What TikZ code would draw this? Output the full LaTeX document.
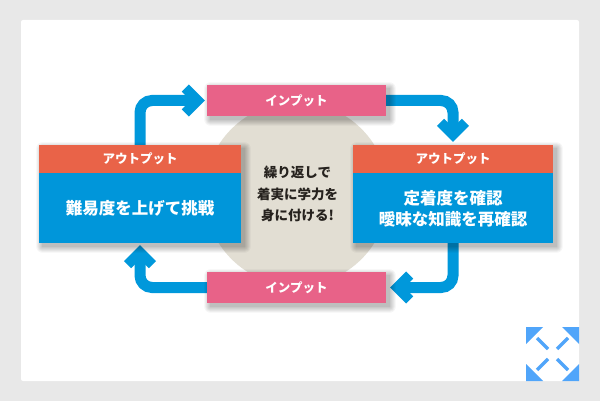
\documentclass[tikz,border=0pt]{standalone}
\usepackage{fontspec}
\newfontfamily\jp{Noto Sans CJK JP}
\usetikzlibrary{arrows.meta}
\definecolor{bggray}{RGB}{232,232,232}
\definecolor{beige}{RGB}{226,222,211}
\definecolor{boxblue}{RGB}{0,150,218}
\definecolor{arrblue}{RGB}{0,152,219}
\definecolor{headorange}{RGB}{233,99,72}
\definecolor{inpink}{RGB}{232,98,136}
\definecolor{iconblue}{RGB}{80,165,250}
\definecolor{darktext}{RGB}{38,34,30}
\pgfdeclarelayer{back}
\pgfdeclarelayer{arrows}
\pgfdeclarelayer{shade}
\pgfsetlayers{back,arrows,shade,main}
\newcommand{\softshadow}[1]{%
  \begin{pgfonlayer}{shade}
  \foreach \e in {0,1,...,6}{
    \fill[black, opacity=0.04, rounded corners=\e pt]
      ([shift={(3.5-\e,3.5-\e)}]#1.north west) rectangle ([shift={(3.5+\e,3.5+\e)}]#1.south east);
  }
  \end{pgfonlayer}}
\tikzset{
  outbox/.style={rectangle, inner sep=0pt, minimum width=202pt, minimum height=98pt, fill=boxblue},
  headbox/.style={rectangle, inner sep=0pt, minimum width=202pt, minimum height=28pt, fill=headorange, text=white, font=\jp\bfseries\fontsize{12.5}{14}\selectfont},
  bodytext/.style={text=white, align=center, font=\jp\bfseries\fontsize{16.5}{21}\selectfont},
  inbox/.style={rectangle, inner sep=0pt, minimum width=179pt, minimum height=31pt, fill=inpink, text=white, font=\jp\bfseries\fontsize{12.5}{14}\selectfont},
  loop/.style={draw=arrblue, line width=11pt, rounded corners=12pt, shorten >=9pt},
  chev/.pic={\draw[arrblue, line width=10pt, line join=miter, miter limit=4] (-19.5,-12.5) -- (-7,0) -- (-19.5,12.5);},
}
\begin{document}
\begin{tikzpicture}[x=1pt,y=-1pt]
\useasboundingbox (0,0) rectangle (600,401);
\begin{pgfonlayer}{back}
\fill[bggray] (0,0) rectangle (600,401);
\fill[white, rounded corners=2pt] (21,20) rectangle (579,381);
\node[circle, fill=beige, minimum size=184pt, inner sep=0pt] (circ) at (296.5,194) {};
\end{pgfonlayer}
\node[align=center, text=darktext, font=\jp\bfseries\fontsize{13.5}{21.5}\selectfont] (ctext) at (297.5,194) {繰り返しで\\着実に学力を\\身に付ける!};
% left box
\node[outbox] (Lbox) at (140,194) {};
\node[headbox] (Lhead) at (140,159) {アウトプット};
\node[bodytext] (Ltext) at (140,208.5) {難易度を上げて挑戦};
\softshadow{Lbox}
% right box
\node[outbox, minimum width=200pt] (Rbox) at (453,194) {};
\node[headbox, minimum width=200pt] (Rhead) at (453,159) {アウトプット};
\node[bodytext] (Rtext) at (453,208.5) {定着度を確認\\曖昧な知識を再確認};
\softshadow{Rbox}
% input boxes
\node[inbox] (ptop) at (296.5,100.5) {インプット};
\node[inbox] (pbot) at (296.5,287.5) {インプット};
\softshadow{ptop}
\softshadow{pbot}
% tips of the loop arrows
\coordinate (t1) at ([xshift=-2pt]ptop.west);
\coordinate (t2) at ([yshift=3pt]Rbox.north);
\coordinate (t3) at ([xshift=4pt]pbot.east);
\coordinate (t4) at ([yshift=-2pt]Lbox.south);
% loop arrows
\begin{pgfonlayer}{arrows}
\draw[loop] (Lbox.north) -- (Lbox.north |- t1) -- (t1);
\draw[loop] (ptop.east) -- (ptop.east -| t2) -- (t2);
\draw[loop] (Rbox.south) -- (Rbox.south |- t3) -- (t3);
\draw[loop] (pbot.west) -- (pbot.west -| t4) -- (t4);
\pic at (t1) {chev};
\pic[rotate=-90] at (t2) {chev};
\pic[rotate=180] at (t3) {chev};
\pic[rotate=90] at (t4) {chev};
\end{pgfonlayer}
% expand icon
\fill[iconblue] (526,327) -- (543,327) -- (526,344) -- cycle;
\fill[iconblue] (579,327) -- (562,327) -- (579,344) -- cycle;
\fill[iconblue] (526,381) -- (543,381) -- (526,364) -- cycle;
\fill[iconblue] (579,381) -- (562,381) -- (579,364) -- cycle;
\draw[iconblue, line width=3.5pt] (537,338) -- (548,349);
\draw[iconblue, line width=3.5pt] (568,338) -- (557,349);
\draw[iconblue, line width=3.5pt] (537,370) -- (548,359);
\draw[iconblue, line width=3.5pt] (568,370) -- (557,359);
\end{tikzpicture}
\end{document}
